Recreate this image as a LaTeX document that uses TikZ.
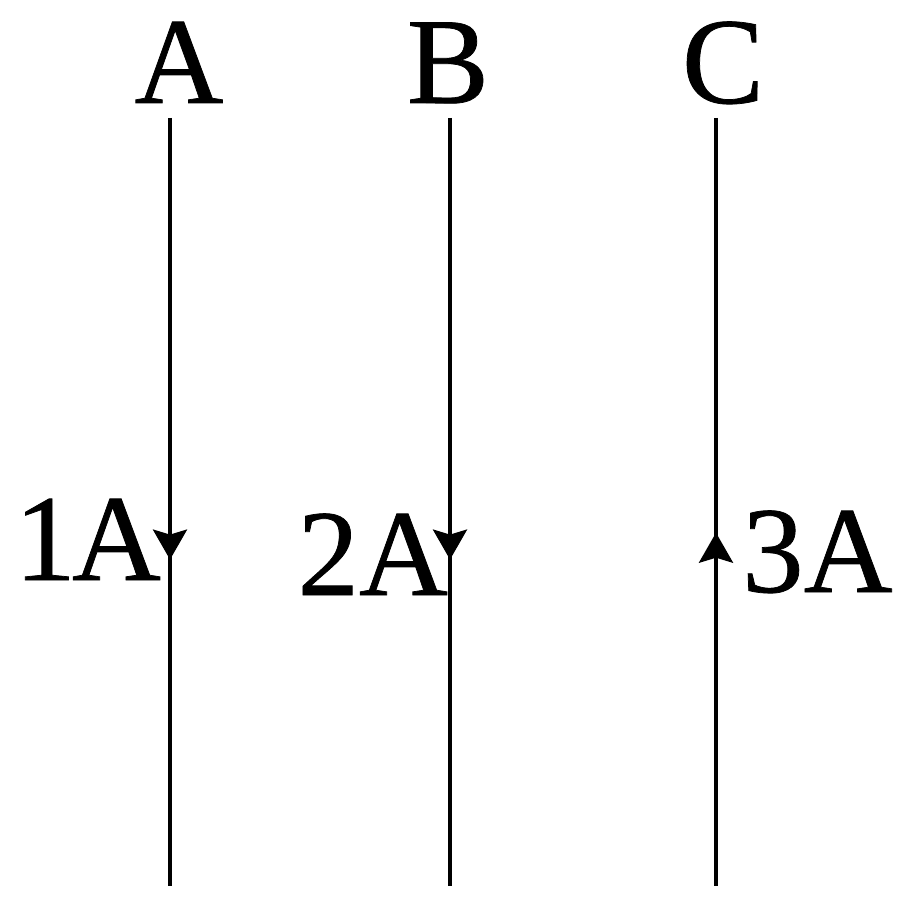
\documentclass[tikz,border=0pt]{standalone}
\usepackage{fontspec}
\setmainfont[FakeBold=0.6]{Liberation Serif}
\usetikzlibrary{arrows.meta,decorations.markings}
\begin{document}
\begin{tikzpicture}[x=1pt,y=1pt,
  wire/.style={line width=3.8pt},
  lbl/.style={inner sep=0pt,font=\fontsize{123}{130}\selectfont},
  tipdown/.style={postaction={decorate},decoration={markings,mark=at position #1 with {\arrow{Stealth[length=30pt,width=34pt,inset=5pt]}}}},
  tipup/.style={postaction={decorate},decoration={markings,mark=at position #1 with {\arrowreversed{Stealth[length=30pt,width=34pt,inset=5pt]}}}}]
\useasboundingbox (0,0) rectangle (900,-904);
\coordinate (ta) at (170,-118); \coordinate (ba) at (170,-886);
\coordinate (tb) at (450,-118); \coordinate (bb) at (450,-886);
\coordinate (tc) at (716,-118); \coordinate (bc) at (716,-886);
\node[lbl,anchor=base] (la) at (179,-103) {A};
\node[lbl,anchor=base] (lb) at (448,-103) {B};
\node[lbl,anchor=base] (lc) at (723,-103) {C};
\node[lbl,anchor=base east] (i1) at (161,-580) {1\kern-4ptA};
\node[lbl,anchor=base east] (i2) at (448,-595) {2A};
\node[lbl,anchor=base west] (i3) at (742,-592) {3A};
\draw[wire,tipdown=0.575] (ta) -- (ba);
\draw[wire,tipdown=0.575] (tb) -- (bb);
\draw[wire,tipup=0.54] (tc) -- (bc);
\end{tikzpicture}
\end{document}
